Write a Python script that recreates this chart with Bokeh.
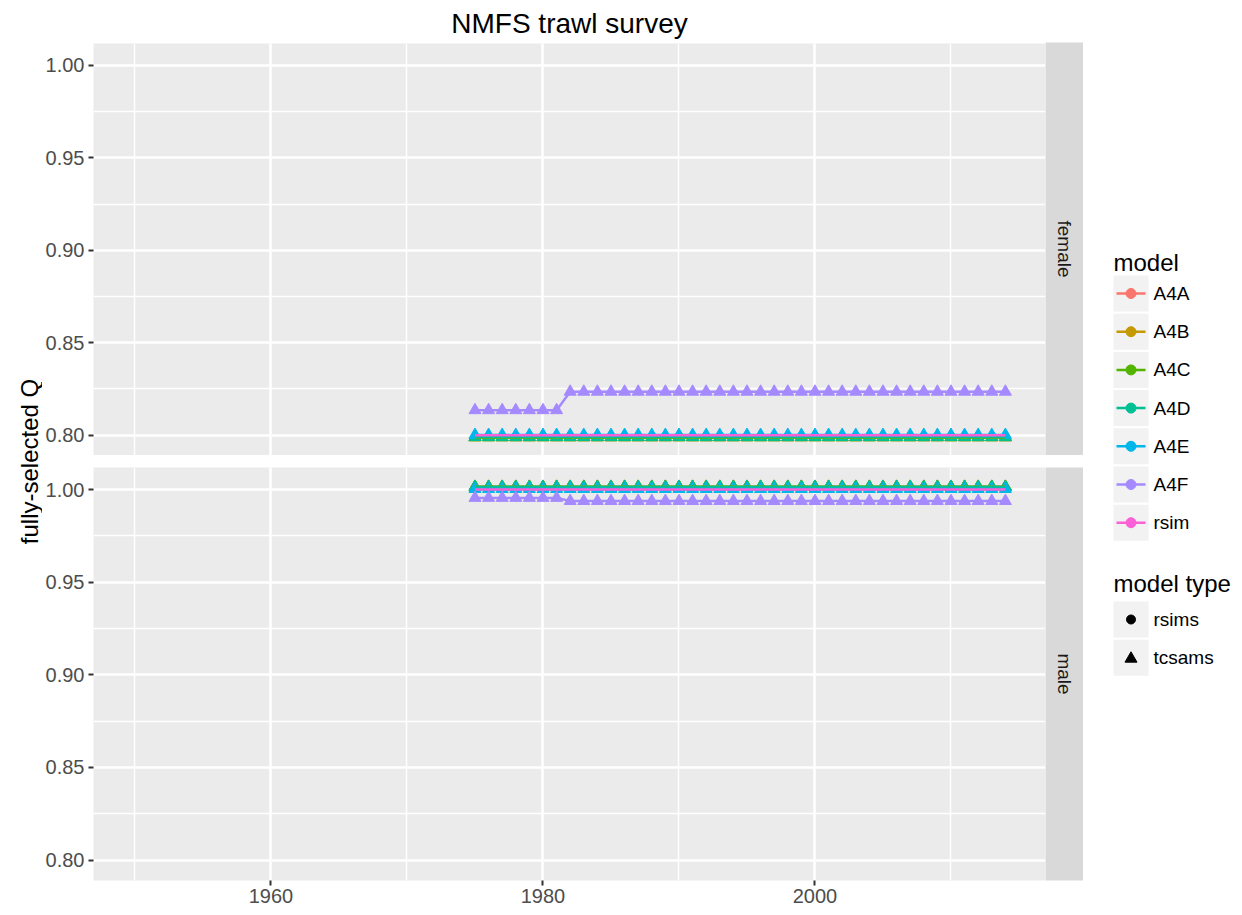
from math import pi
from bokeh.plotting import figure
from bokeh.models import Range1d, FixedTicker, NumeralTickFormatter
from bokeh.layouts import row, column
from bokeh.embed import file_html
from bokeh.resources import INLINE
from bokeh.core.properties import value

FONT = "Liberation Sans"

# ---------------- data ----------------
years = list(range(1975, 2015))
models = ["A4A", "A4B", "A4C", "A4D", "A4E", "A4F", "rsim"]
colors = ["#F8766D", "#C49A00", "#53B400", "#00C094", "#00B6EB", "#A58AFF", "#FB61D7"]
model_types = ["tcsams", "tcsams", "tcsams", "tcsams", "tcsams", "tcsams", "rsims"]
type_names = ["rsims", "tcsams"]

female_A4A = [0.7989] * 40
female_A4B = [0.7989] * 40
female_A4C = [0.7988] * 40
female_A4D = [0.7990] * 40
female_A4E = [0.8001] * 40
female_A4F = [0.8135] * 7 + [0.8235] * 33
female_rsim = [0.8000] * 40

male_A4A = [1.0014] * 40
male_A4B = [1.0014] * 40
male_A4C = [1.0015] * 40
male_A4D = [1.0014] * 40
male_A4E = [1.0003] * 40
male_A4F = [0.9955] * 7 + [0.9938] * 33
male_rsim = [1.0000] * 40

female = [female_A4A, female_A4B, female_A4C, female_A4D, female_A4E, female_A4F, female_rsim]
male = [male_A4A, male_A4B, male_A4C, male_A4D, male_A4E, male_A4F, male_rsim]

x_ticks = [1960, 1980, 2000]
x_minor = [1950, 1970, 1990, 2010]
y_ticks = [0.80, 0.85, 0.90, 0.95, 1.00]
y_minor = [0.825, 0.875, 0.925, 0.975]

title_text = "NMFS trawl survey"
y_title = "fully-selected Q"
facets = ["female", "male"]

# ---------------- layout constants ----------------
W_YLAB = 42
BORDER_L = 48
FRAME_W = 955
FRAME_H = 413
STRIP_W = 38
LEG_W = 1242 - W_YLAB - BORDER_L - FRAME_W - STRIP_W
TOTAL_H = 915
TOP_F, BOT_F = 42, 0
TOP_M, BOT_M = 12, 35


def make_panel(series, top, bottom, show_x, title=None):
    p = figure(width=BORDER_L + FRAME_W, height=top + FRAME_H + bottom,
               x_range=Range1d(1946.95, 2016.95), y_range=Range1d(0.789, 1.0119),
               output_backend="svg", toolbar_location=None,
               min_border_left=BORDER_L, min_border_right=0,
               min_border_top=top, min_border_bottom=bottom)
    p.background_fill_color = "#EBEBEB"
    p.border_fill_color = "white"
    p.outline_line_color = None
    if title:
        p.title.text = title
        p.title.align = "center"
        p.title.text_font = FONT
        p.title.text_font_size = "28px"
        p.title.text_font_style = "normal"
        p.title.text_color = "black"
    xt = FixedTicker(ticks=x_ticks, minor_ticks=x_minor)
    yt = FixedTicker(ticks=y_ticks, minor_ticks=y_minor)
    p.xaxis.ticker = xt
    p.yaxis.ticker = yt
    p.xgrid.ticker = xt
    p.ygrid.ticker = yt
    for g in (p.xgrid, p.ygrid):
        g.grid_line_color = "white"
        g.grid_line_width = 2.6
        g.minor_grid_line_color = "white"
        g.minor_grid_line_width = 1.4
    p.yaxis.formatter = NumeralTickFormatter(format="0.00")
    for ax in p.axis:
        ax.axis_line_color = None
        ax.major_tick_line_color = "#333333"
        ax.major_tick_line_width = 2
        ax.major_tick_out = 5
        ax.major_tick_in = 0
        ax.minor_tick_line_color = None
        ax.major_label_text_font = FONT
        ax.major_label_text_font_size = "20px"
        ax.major_label_text_color = "#4D4D4D"
        ax.major_label_standoff = 4
    p.xaxis.major_label_standoff = 3
    if not show_x:
        p.xaxis.visible = False
    # points (tcsams => triangles), then lines
    for name, col, mt, vals in zip(models, colors, model_types, series):
        if mt == "tcsams":
            p.scatter(years, vals, marker="triangle", size=12, color=col)
    for name, col, mt, vals in zip(models, colors, model_types, series):
        p.line(years, vals, line_color=col, line_width=2.5)
    return p


def make_strip(label, top, bottom):
    s = figure(width=STRIP_W, height=top + FRAME_H + bottom,
               x_range=Range1d(0, 1), y_range=Range1d(0, 1),
               x_axis_location=None, y_axis_location=None,
               output_backend="svg", toolbar_location=None,
               min_border_left=0, min_border_right=0,
               min_border_top=top, min_border_bottom=bottom)
    s.grid.visible = False
    s.background_fill_color = "#D9D9D9"
    s.border_fill_color = "white"
    s.outline_line_color = None
    s.text(x=[0.5], y=[0.5], text=[label], angle=-pi / 2,
           text_align="center", text_baseline="middle",
           text_font=value(FONT), text_font_size="19px", text_color="#1A1A1A")
    return s


p_f = make_panel(female, TOP_F, BOT_F, False, title=title_text)
p_m = make_panel(male, TOP_M, BOT_M, True)
s_f = make_strip(facets[0], TOP_F, BOT_F)
s_m = make_strip(facets[1], TOP_M, BOT_M)

# y axis title
ylab = figure(width=W_YLAB, height=TOTAL_H, x_range=Range1d(0, W_YLAB), y_range=Range1d(TOTAL_H, 0),
              x_axis_location=None, y_axis_location=None, output_backend="svg", toolbar_location=None,
              min_border=0)
ylab.grid.visible = False
ylab.outline_line_color = None
ylab.background_fill_color = "white"
ylab.text(x=[29], y=[461], text=[y_title], angle=pi / 2, text_align="center", text_baseline="middle",
          text_font=value(FONT), text_font_size="24px", text_color="black")

# legend (built from the model / colour arrays)
leg = figure(width=LEG_W, height=TOTAL_H, x_range=Range1d(0, LEG_W), y_range=Range1d(TOTAL_H, 0),
             x_axis_location=None, y_axis_location=None, output_backend="svg", toolbar_location=None,
             min_border=0)
leg.grid.visible = False
leg.outline_line_color = None
leg.background_fill_color = "white"

KX0, KX1 = 30, 65
KEY_H = 36
STEP = 38.2
y0 = 293
leg.text(x=[KX0], y=[262], text=["model"], text_align="left", text_baseline="middle",
         text_font=value(FONT), text_font_size="24px", text_color="black")
cy = [y0 + i * STEP for i in range(len(models))]
leg.quad(left=[KX0] * len(models), right=[KX1] * len(models),
         top=[c - KEY_H / 2 for c in cy], bottom=[c + KEY_H / 2 for c in cy],
         fill_color="#F2F2F2", line_color=None)
leg.segment(x0=[KX0 + 3] * len(models), x1=[KX1 - 3] * len(models), y0=cy, y1=cy,
            line_color=colors, line_width=2.5)
leg.scatter(x=[(KX0 + KX1) / 2] * len(models), y=cy, marker="circle", size=10, color=colors)
leg.text(x=[KX1 + 5] * len(models), y=cy, text=models, text_align="left", text_baseline="middle",
         text_font=value(FONT), text_font_size="19px", text_color="black")

leg.text(x=[KX0], y=[583], text=["model type"], text_align="left", text_baseline="middle",
         text_font=value(FONT), text_font_size="24px", text_color="black")
ty = [619, 619 + STEP]
leg.quad(left=[KX0] * 2, right=[KX1] * 2, top=[c - KEY_H / 2 for c in ty],
         bottom=[c + KEY_H / 2 for c in ty], fill_color="#F2F2F2", line_color=None)
leg.scatter(x=[(KX0 + KX1) / 2], y=[ty[0]], marker="circle", size=9, color="black")
leg.scatter(x=[(KX0 + KX1) / 2], y=[ty[1] + 1], marker="triangle", size=12, color="black")
leg.text(x=[KX1 + 5] * 2, y=ty, text=type_names, text_align="left", text_baseline="middle",
         text_font=value(FONT), text_font_size="19px", text_color="black")

layout = row(ylab, column(p_f, p_m), column(s_f, s_m), leg)

open("out.html", "w").write(file_html(layout, INLINE))
